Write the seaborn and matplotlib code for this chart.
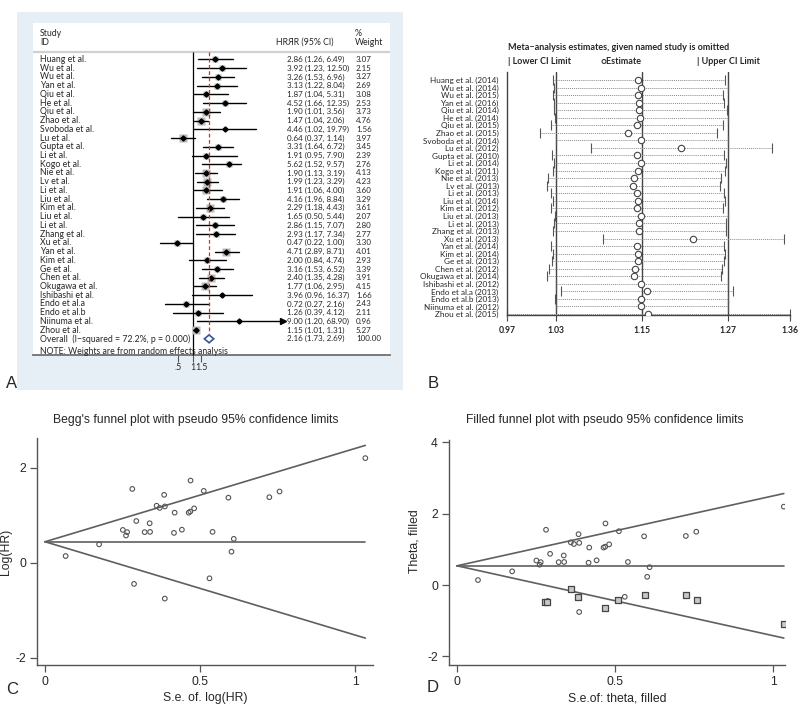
import matplotlib
matplotlib.use("Agg")
import matplotlib.pyplot as plt
from matplotlib.patches import Rectangle
import numpy as np
import pandas as pd
import seaborn as sns

# ---------------- data ----------------
# A: forest plot
names_a = ["Huang et al.", "Wu et al.", "Wu et al.", "Yan et al.", "Qiu et al.", "He et al.",
           "Qiu et al.", "Zhao et al.", "Svoboda et al.", "Lu et al.", "Gupta et al.", "Li et al.",
           "Kogo et al.", "Nie et al.", "Lv et al.", "Li et al.", "Liu et al.", "Kim et al.",
           "Liu et al.", "Li et al.", "Zhang et al.", "Xu et al.", "Yan et al.", "Kim et al.",
           "Ge et al.", "Chen et al.", "Okugawa et al.", "Ishibashi et al.", "Endo et al.a",
           "Endo et al.b", "Niinuma et al.", "Zhou et al."]
hr = [2.86, 3.92, 3.26, 3.13, 1.87, 4.52, 1.90, 1.47, 4.46, 0.64, 3.31, 1.91, 5.62, 1.90, 1.99, 1.91,
      4.16, 2.29, 1.65, 2.86, 2.93, 0.47, 4.71, 2.00, 3.16, 2.40, 1.77, 3.96, 0.72, 1.26, 9.00, 1.15]
hr_lo = [1.26, 1.23, 1.53, 1.22, 1.04, 1.66, 1.01, 1.04, 1.02, 0.37, 1.64, 0.95, 1.52, 1.13, 1.23, 1.06,
         1.96, 1.18, 0.50, 1.15, 1.17, 0.22, 2.89, 0.84, 1.53, 1.35, 1.06, 0.96, 0.27, 0.39, 1.20, 1.01]
hr_hi = [6.49, 12.50, 6.96, 8.04, 5.31, 12.35, 3.56, 2.06, 19.79, 1.14, 6.72, 7.90, 9.57, 3.19, 3.29, 4.00,
         8.84, 4.43, 5.44, 7.07, 7.34, 1.00, 8.71, 4.74, 6.52, 4.28, 2.95, 16.37, 2.16, 4.12, 68.90, 1.31]
weight = [3.07, 2.15, 3.27, 2.69, 3.08, 2.53, 3.73, 4.76, 1.56, 3.97, 3.45, 2.39, 2.76, 4.13, 4.23, 3.60,
          3.29, 3.61, 2.07, 2.80, 2.77, 3.30, 4.01, 2.93, 3.39, 3.91, 4.15, 1.66, 2.43, 2.11, 0.96, 5.27]
overall_hr, overall_lo, overall_hi = 2.16, 1.73, 2.69
i_squared, p_het = 72.2, 0.000
forest_ticks = [0.5, 1, 1.5]
forest_ticklabels = [".5", "1", "1.5"]

# B: leave-one-out sensitivity analysis
names_b = ["Huang et al. (2014)", "Wu et al. (2014)", "Wu et al. (2015)", "Yan et al. (2016)",
           "Qiu et al. (2014)", "He et al. (2014)", "Qiu et al. (2015)", "Zhao et al. (2015)",
           "Svoboda et al. (2014)", "Lu et al. (2012)", "Gupta et al. (2010)", "Li et al. (2014)",
           "Kogo et al. (2011)", "Nie et al. (2013)", "Lv et al. (2013)", "Li et al. (2013)",
           "Liu et al. (2014)", "Kim et al. (2012)", "Liu et al. (2013)", "Li et al. (2013)",
           "Zhang et al. (2013)", "Xu et al. (2013)", "Yan et al. (2014)", "Kim et al. (2014)",
           "Ge et al. (2013)", "Chen et al. (2012)", "Okugawa et al. (2014)", "Ishibashi et al. (2012)",
           "Endo et al.a (2013)", "Endo et al.b (2013)", "Niinuma et al. (2012)", "Zhou et al. (2015)"]
loo_lo = [1.0248, 1.0260, 1.0240, 1.0256, 1.0260, 1.0269, 1.0219, 1.0084, 1.0277, 1.0721, 1.0236,
          1.0260, 1.0240, 1.0186, 1.0166, 1.0219, 1.0240, 1.0219, 1.0269, 1.0256, 1.0248, 1.0887,
          1.0219, 1.0240, 1.0236, 1.0199, 1.0174, 1.0277, 1.0339, 1.0269, 1.0277, 0.9690]
loo_est = [1.1358, 1.1390, 1.1358, 1.1372, 1.1372, 1.1381, 1.1335, 1.1211, 1.1390, 1.1958, 1.1344,
           1.1390, 1.1358, 1.1303, 1.1289, 1.1344, 1.1358, 1.1335, 1.1390, 1.1372, 1.1372, 1.2127,
           1.1335, 1.1358, 1.1349, 1.1317, 1.1303, 1.1390, 1.1473, 1.1390, 1.1399, 1.1492]
loo_hi = [1.2614, 1.2651, 1.2573, 1.2598, 1.2639, 1.2651, 1.2578, 1.2485, 1.2651, 1.3342, 1.2598,
          1.2629, 1.2614, 1.2547, 1.2537, 1.2588, 1.2614, 1.2578, 1.2651, 1.2629, 1.2629, 1.3543,
          1.2588, 1.2614, 1.2598, 1.2562, 1.2547, 1.2651, 1.2738, 1.2651, 1.2651, 1.3640]
loo_overall = [1.0277, 1.1412, 1.2651]
loo_ticks = [0.969, 1.0277, 1.1412, 1.2651, 1.364]
loo_ticklabels = ["0.97", "1.03", "1.15", "1.27", "1.36"]

# C: Begg's funnel (points come from the study HRs and their 95% CIs)
begg_center = 0.44
# D: trim-and-fill, imputed studies
filled_center = 0.54
imp_se = [0.2795, 0.2848, 0.360, 0.384, 0.469, 0.5105, 0.593, 0.7236, 0.7574, 1.0348]
imp_theta = [-0.467, -0.467, -0.103, -0.346, -0.645, -0.421, -0.280, -0.280, -0.411, -1.103]

funnel = pd.DataFrame({
    "se": (np.log(hr_hi) - np.log(hr_lo)) / (2 * 1.96),
    "loghr": np.log(hr),
})
imputed = pd.DataFrame({"se": imp_se, "theta": imp_theta})

# ---------------- figure ----------------
sns.set_style("ticks")
plt.rcParams["font.family"] = ["Liberation Sans", "DejaVu Sans"]
LATO = ["Lato", "DejaVu Sans"]

W, H = 800, 705
fig = plt.figure(figsize=(8, 7.05), dpi=100)


def px_axes(x0, y0, x1, y1):
    return fig.add_axes([x0 / W, 1 - y1 / H, (x1 - x0) / W, (y1 - y0) / H])


def ftext(x, y, s, **kw):
    fig.text(x / W, 1 - y / H, s, **kw)


# ---- panel A ----
fig.add_artist(Rectangle((17 / W, 1 - 390 / H), 386 / W, 378 / H, transform=fig.transFigure,
                         facecolor="#e6eff5", edgecolor="none", zorder=0))
ylim_a = (33.85, -4.18)
axa = px_axes(33, 23, 390, 355)
axa.set_facecolor("white")
axa.set_xlim(33, 390)
axa.set_ylim(*ylim_a)
axa.set_xticks([])
axa.set_yticks([])
for s in ["top", "left", "right"]:
    axa.spines[s].set_visible(False)
axa.spines["bottom"].set_color("#6f6f6f")
axa.spines["bottom"].set_linewidth(1.3)

fs_a = 6.3
fs_num = 5.8
axa.text(40, -3.0, "Study", fontsize=fs_a, family=LATO, va="center")
axa.text(40, -2.0, "ID", fontsize=fs_a, family=LATO, va="center")
axa.text(276, -2.0, "HRЯR (95% CI)", fontsize=fs_a, family=LATO, va="center")
axa.text(355, -3.0, "%", fontsize=fs_a, family=LATO, va="center")
axa.text(355, -2.0, "Weight", fontsize=fs_a, family=LATO, va="center")
axa.axhline(-0.9, color="#d0d0d0", lw=1.6)

for i, name in enumerate(names_a):
    axa.text(40, i, name, fontsize=fs_a, family=LATO, va="center")
    axa.text(287, i, f"{hr[i]:.2f} ({hr_lo[i]:.2f}, {hr_hi[i]:.2f})", fontsize=fs_num,
             family=LATO, va="center")
    axa.text(356, i, f"{weight[i]:.2f}", fontsize=fs_num, family=LATO, va="center")
n = len(names_a)
axa.text(40, n, f"Overall  (I\u2212squared = {i_squared}%, p = {p_het:.3f})", fontsize=fs_a,
         family=LATO, va="center")
axa.text(287, n, f"{overall_hr:.2f} ({overall_lo:.2f}, {overall_hi:.2f})", fontsize=fs_num,
         family=LATO, va="center")
axa.text(356, n, "100.00", fontsize=fs_num, family=LATO, va="center")
axa.text(40, 33.4, "NOTE: Weights are from random effects analysis", fontsize=fs_a,
         family=LATO, va="center")

axf = px_axes(150, 23, 300, 355)
axf.patch.set_alpha(0)
axf.set_xscale("log")
axf.set_xlim(0.135, 154)
axf.set_ylim(*ylim_a)
for s in axf.spines.values():
    s.set_visible(False)
axf.set_yticks([])
axf.set_xticks(forest_ticks, forest_ticklabels)
axf.minorticks_off()
axf.tick_params(axis="x", direction="out", length=5, width=0.8, color="#555", labelsize=6.3,
                pad=0.5)
for lab in axf.get_xticklabels():
    lab.set_family(LATO)

axf.vlines(1, -0.9, ylim_a[0], colors="black", lw=0.9, clip_on=False)
for i in range(n):
    axf.plot(hr[i], i, marker="s", ms=np.sqrt(weight[i]) * 2.7, color="#b9b9b9", mec="none")
    axf.plot([hr_lo[i], hr_hi[i]], [i, i], color="black", lw=1.0)
    axf.plot(hr[i], i, marker="D", ms=2.6, color="black")
    if hr_hi[i] > 50:
        axf.plot(hr_hi[i], i, marker=">", ms=4, color="black")
axf.vlines(overall_hr, -0.9, n - 0.5, colors="#c0392b", linestyles=(0, (3, 2)), lw=0.9)
axf.fill([overall_lo, overall_hr, overall_hi, overall_hr], [n, n - 0.45, n, n + 0.45],
         facecolor="white", edgecolor="#34579b", lw=1.2)

ftext(12, 383, "A", fontsize=12, va="center", ha="center")

# ---- panel B ----
axb = px_axes(507, 72, 790, 315)
axb.set_xscale("log")
axb.set_xlim(loo_ticks[0], loo_ticks[-1])
axb.set_ylim(31.13, -1.06)
for s in ["top", "right"]:
    axb.spines[s].set_visible(False)
for s in ["left", "bottom"]:
    axb.spines[s].set_color("#444")
    axb.spines[s].set_linewidth(1.0)
for v in loo_overall:
    axb.axvline(v, color="#444", lw=1.0)
for i in range(len(names_b)):
    axb.hlines(i, loo_lo[i], loo_hi[i], colors="#8a8a8a", linestyles=(0, (1, 1)), lw=0.7,
               clip_on=False)
    axb.plot([loo_lo[i], loo_hi[i]], [i, i], ls="none", marker="|", ms=6.5, mew=0.8,
             color="#555", clip_on=False)
    axb.plot(loo_est[i], i, marker="o", ms=4.6, mfc="white", mec="#444", mew=0.8, zorder=5)
axb.set_yticks(range(len(names_b)), names_b)
axb.tick_params(axis="y", length=0, pad=6, labelsize=5.9)
for lab in axb.get_yticklabels():
    lab.set_family(LATO)
axb.set_xticks(loo_ticks, loo_ticklabels)
axb.minorticks_off()
axb.tick_params(axis="x", direction="out", length=4, width=0.8, color="#444", labelsize=6.2,
                pad=4)
for lab in axb.get_xticklabels():
    lab.set_family(LATO)
    lab.set_fontweight("bold")

ftext(508, 48, "Meta\u2212analysis estimates, given named study is omitted", fontsize=6.5,
      family=LATO, va="center", fontweight="bold")
ftext(508, 61, "| Lower CI Limit", fontsize=6.5, family=LATO, va="center", fontweight="bold")
ftext(600, 61, "\u25cbEstimate", fontsize=6.5, family=LATO, va="center", fontweight="bold")
ftext(697, 61, "| Upper CI Limit", fontsize=6.5, family=LATO, va="center", fontweight="bold")
ftext(433, 383, "B", fontsize=12, va="center", ha="center")


# ---- panels C and D ----
def funnel_axes(ax, center, se_max):
    xs = np.array([0, se_max])
    ax.plot(xs, center + 1.96 * xs, color="#5f5f5f", lw=1.2)
    ax.plot(xs, center - 1.96 * xs, color="#5f5f5f", lw=1.2)
    ax.plot(xs, [center, center], color="#5f5f5f", lw=1.2)
    sns.despine(ax=ax)
    for s in ["left", "bottom"]:
        ax.spines[s].set_color("#555")
        ax.spines[s].set_linewidth(1.0)
    ax.tick_params(direction="out", length=5, width=0.9, color="#555", labelsize=8.7, pad=3)
    ax.set_xticks([0, 0.5, 1], ["0", "0.5", "1"])


axc = px_axes(37, 438, 373, 665)
sns.scatterplot(data=funnel, x="se", y="loghr", ax=axc, marker="o", s=11,
                facecolor="none", edgecolor="#555", linewidth=0.8, zorder=3)
funnel_axes(axc, begg_center, funnel["se"].max())
axc.set_xlim(-0.026, 1.058)
axc.set_ylim(-2.15, 2.62)
axc.set_yticks([-2, 0, 2], ["-2", "0", "2"])
axc.set_xlabel("S.e. of. log(HR)", fontsize=8.8, labelpad=3)
axc.set_ylabel("Log(HR)", fontsize=8.8)
axc.yaxis.set_label_coords(-0.075, 0.5)
ftext(196, 420, "Begg's funnel plot with pseudo 95% confidence limits", fontsize=8.7,
      ha="center", va="center")
ftext(12, 690, "C", fontsize=12, va="center", ha="center")

axd = px_axes(449, 440, 785, 665)
sns.scatterplot(data=funnel, x="se", y="loghr", ax=axd, marker="o", s=11,
                facecolor="none", edgecolor="#555", linewidth=0.8, zorder=3)
sns.scatterplot(data=imputed, x="se", y="theta", ax=axd, marker="s", s=24,
                facecolor="#c8c8c8", edgecolor="#444", linewidth=0.9, zorder=3)
funnel_axes(axd, filled_center, funnel["se"].max())
axd.set_xlim(-0.0253, 1.037)
axd.set_ylim(-2.24, 4.065)
axd.set_yticks([-2, 0, 2, 4], ["-2", "0", "2", "4"])
axd.set_xlabel("S.e.of: theta, filled", fontsize=8.8, labelpad=3)
axd.set_ylabel("Theta, filled", fontsize=8.8)
axd.yaxis.set_label_coords(-0.085, 0.55)
ftext(605, 420, "Filled funnel plot with pseudo 95% confidence limits", fontsize=8.7,
      ha="center", va="center")
ftext(433, 687, "D", fontsize=12, va="center", ha="center")

fig.savefig("out.png", dpi=100)
